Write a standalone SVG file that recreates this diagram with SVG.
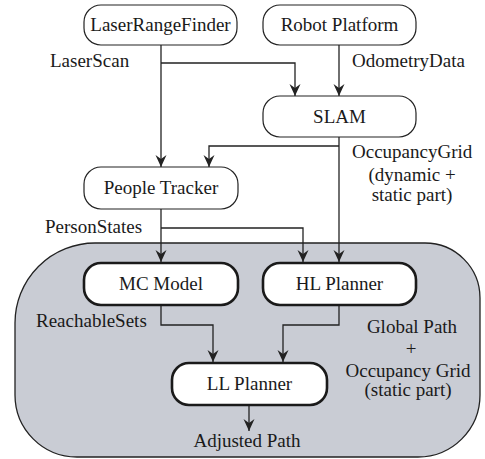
<svg xmlns="http://www.w3.org/2000/svg" width="485" height="459" viewBox="0 0 485 459">
<defs>
<style>
text{font-family:'Liberation Serif','Times New Roman',serif;font-size:19px;fill:#1a1a1a}
.c{text-anchor:middle}
.box{fill:#fff;stroke:#222;stroke-width:1.2}
.tbox{fill:#fff;stroke:#1a1a1a;stroke-width:2.6}
.ln{fill:none;stroke:#222;stroke-width:1.3}
</style>
<marker id="ah" viewBox="0 0 12 12" refX="12" refY="6" markerWidth="12" markerHeight="12" markerUnits="userSpaceOnUse" orient="auto">
<path d="M0,0.5 L12,6 L0,11.5 L4,6 Z" fill="#222"/>
</marker>
</defs>
<g id="region">
<path d="M95,243 H425 A55,55 0 0 1 480,298 V395 A62,62 0 0 1 418,457 H77 A62,62 0 0 1 15,395 V323 A80,80 0 0 1 95,243 Z" fill="#c9ccd4" stroke="#222" stroke-width="1.3"/>
</g>
<g id="connectors">
<path class="ln" d="M161,45 V167" marker-end="url(#ah)"/>
<path class="ln" d="M161,63 H295 V96" marker-end="url(#ah)"/>
<path class="ln" d="M339,45 V96" marker-end="url(#ah)"/>
<path class="ln" d="M339,137 V262" marker-end="url(#ah)"/>
<path class="ln" d="M339,146 H209 V167" marker-end="url(#ah)"/>
<path class="ln" d="M161,209 V262" marker-end="url(#ah)"/>
<path class="ln" d="M161,228 H303 V262" marker-end="url(#ah)"/>
<path class="ln" d="M161,305 V325 H213 V362" marker-end="url(#ah)"/>
<path class="ln" d="M339,305 V325 H283 V362" marker-end="url(#ah)"/>
<path class="ln" d="M249,405 V431" marker-end="url(#ah)"/>
</g>
<g id="labels">
<text x="50" y="67">LaserScan</text>
<text x="352" y="67">OdometryData</text>
<text x="352" y="158">OccupancyGrid</text>
<text class="c" x="412" y="181">(dynamic +</text>
<text class="c" x="412" y="201">static part)</text>
<text x="45" y="233">PersonStates</text>
<text x="36" y="327">ReachableSets</text>
<text class="c" x="412" y="333">Global Path</text>
<text class="c" x="411" y="355">+</text>
<text class="c" x="408" y="377">Occupancy Grid</text>
<text class="c" x="408" y="396">(static part)</text>
<text class="c" x="247" y="447">Adjusted Path</text>
</g>
<g id="lrf">
<rect class="box" x="84" y="5" width="153" height="40" rx="17"/>
<text class="c" x="160.5" y="31">LaserRangeFinder</text>
</g>
<g id="robot">
<rect class="box" x="263" y="5" width="153" height="40" rx="17"/>
<text class="c" x="339.5" y="31">Robot Platform</text>
</g>
<g id="slam">
<rect class="box" x="263" y="96" width="153" height="41" rx="17"/>
<text class="c" x="339.5" y="123">SLAM</text>
</g>
<g id="tracker">
<rect class="box" x="84" y="167" width="154" height="42" rx="17"/>
<text class="c" x="161" y="194">People Tracker</text>
</g>
<g id="mc">
<rect class="tbox" x="84" y="263" width="154" height="42" rx="17"/>
<text class="c" x="161" y="290">MC Model</text>
</g>
<g id="hl">
<rect class="tbox" x="263" y="263" width="153" height="42" rx="17"/>
<text class="c" x="339.5" y="290">HL Planner</text>
</g>
<g id="ll">
<rect class="tbox" x="172" y="363" width="155" height="42" rx="17"/>
<text class="c" x="249.5" y="390">LL Planner</text>
</g>
</svg>
